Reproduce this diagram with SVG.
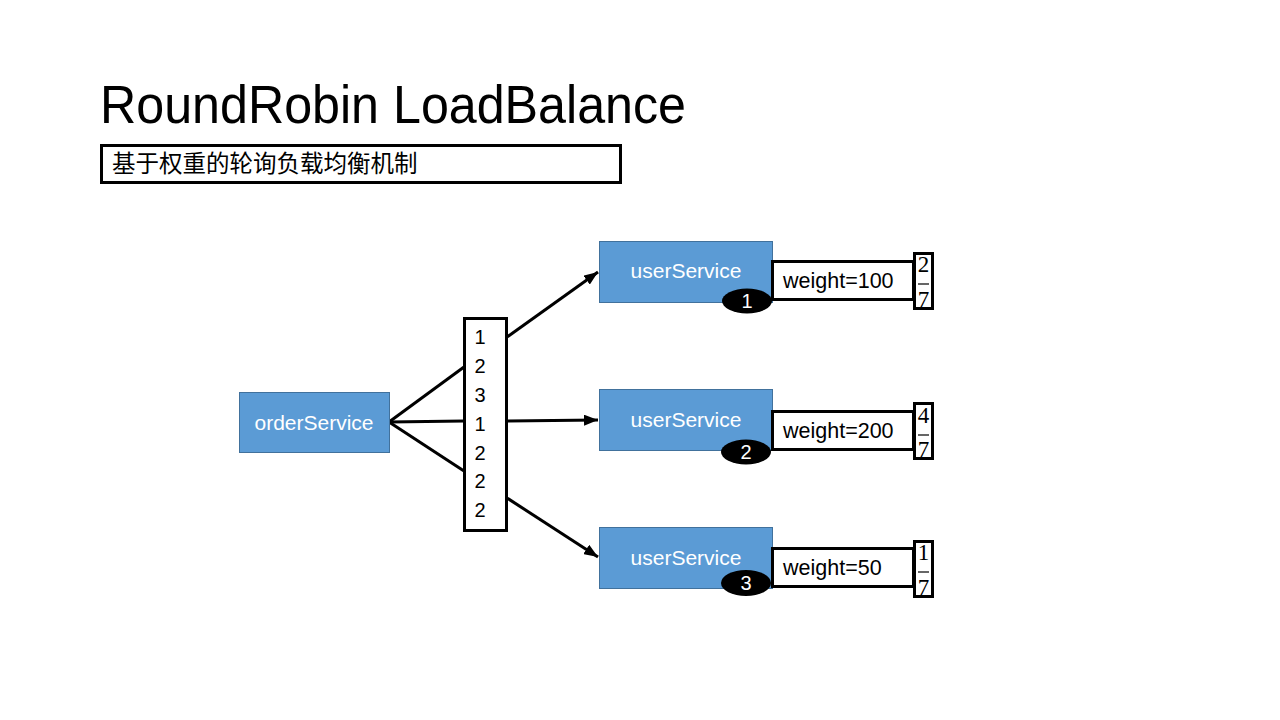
<svg xmlns="http://www.w3.org/2000/svg" width="1280" height="720" viewBox="0 0 1280 720">
  <defs>
    <marker id="arrow" markerWidth="14" markerHeight="11" refX="14" refY="5.5" orient="auto" markerUnits="userSpaceOnUse">
      <path d="M0,0 L14,5.5 L0,11 Z" fill="#000"/>
    </marker>
    <style>
      .svc { fill: #5B9BD5; stroke: #41719C; stroke-width: 1; }
      .svcText { font-family: "Liberation Sans", Arial, sans-serif; font-size: 21px; fill: #FFFFFF; text-anchor: middle; }
      .box { fill: #FFFFFF; stroke: #000000; stroke-width: 3; }
      .txt { font-family: "Liberation Sans", Arial, sans-serif; font-size: 21.5px; fill: #000000; }
      .num { font-family: "Liberation Sans", Arial, sans-serif; font-size: 20px; fill: #000000; text-anchor: middle; }
      .frac { font-family: "Liberation Serif", "Times New Roman", serif; font-size: 23px; fill: #000000; text-anchor: middle; }
      .badge { fill: #000000; }
      .badgeText { font-family: "Liberation Sans", Arial, sans-serif; font-size: 20px; fill: #FFFFFF; text-anchor: middle; }
      .conn { stroke: #000000; stroke-width: 3; fill: none; }
    </style>
  </defs>
  <rect width="1280" height="720" fill="#FFFFFF"/>

  <g id="title">
    <text x="100" y="123" font-family="'Liberation Sans', Arial, sans-serif" font-size="53" fill="#000" textLength="586" lengthAdjust="spacingAndGlyphs">RoundRobin LoadBalance</text>
  </g>
  <g id="subtitle">
    <rect x="101.5" y="145.5" width="519" height="37" class="box"/>
    <text x="112" y="172" font-family="'Noto Sans CJK SC', sans-serif" font-size="23.5" fill="#000">基于权重的轮询负载均衡机制</text>
  </g>

  <g id="connectors">
    <line x1="389" y1="422" x2="464" y2="367" class="conn"/>
    <line x1="389" y1="422" x2="464" y2="421" class="conn"/>
    <line x1="389" y1="422" x2="464" y2="471" class="conn"/>
    <line x1="507" y1="337" x2="598" y2="272" class="conn" marker-end="url(#arrow)"/>
    <line x1="507" y1="421" x2="598" y2="420" class="conn" marker-end="url(#arrow)"/>
    <line x1="507" y1="498" x2="598" y2="557" class="conn" marker-end="url(#arrow)"/>
  </g>

  <g id="orderService">
    <rect x="239.5" y="392.5" width="150" height="60" class="svc"/>
    <text x="314" y="430" class="svcText">orderService</text>
  </g>

  <g id="sequence">
    <rect x="464.5" y="318.5" width="42" height="212" class="box"/>
    <text x="480" y="344" class="num">1</text>
    <text x="480" y="373" class="num">2</text>
    <text x="480" y="402" class="num">3</text>
    <text x="480" y="431" class="num">1</text>
    <text x="480" y="460" class="num">2</text>
    <text x="480" y="488" class="num">2</text>
    <text x="480" y="517" class="num">2</text>
  </g>

  <g id="userService1">
    <rect x="599.5" y="241.5" width="173" height="61" class="svc"/>
    <text x="686" y="278" class="svcText">userService</text>
    <ellipse cx="747" cy="301" rx="25" ry="12.5" class="badge"/>
    <text x="747" y="308" class="badgeText">1</text>
  </g>
  <g id="weight1">
    <rect x="772.5" y="261.5" width="141" height="38" class="box"/>
    <text x="783" y="288" class="txt">weight=100</text>
  </g>
  <g id="fraction1">
    <rect x="914.5" y="253.5" width="18" height="55" class="box"/>
    <text x="923.5" y="272" class="frac">2</text>
    <line x1="918" y1="284" x2="929" y2="284" stroke="#000" stroke-width="1.2"/>
    <text x="923.5" y="306.5" class="frac">7</text>
  </g>

  <g id="userService2">
    <rect x="599.5" y="389.5" width="173" height="61" class="svc"/>
    <text x="686" y="427" class="svcText">userService</text>
    <ellipse cx="746" cy="452" rx="25" ry="12.5" class="badge"/>
    <text x="746" y="459" class="badgeText">2</text>
  </g>
  <g id="weight2">
    <rect x="772.5" y="411.5" width="141" height="38" class="box"/>
    <text x="783" y="438" class="txt">weight=200</text>
  </g>
  <g id="fraction2">
    <rect x="914.5" y="403.5" width="18" height="55" class="box"/>
    <text x="923.5" y="423" class="frac">4</text>
    <line x1="918" y1="435" x2="929" y2="435" stroke="#000" stroke-width="1.2"/>
    <text x="923.5" y="456.5" class="frac">7</text>
  </g>

  <g id="userService3">
    <rect x="599.5" y="527.5" width="173" height="61" class="svc"/>
    <text x="686" y="565" class="svcText">userService</text>
    <ellipse cx="746" cy="583" rx="25" ry="13" class="badge"/>
    <text x="746" y="590" class="badgeText">3</text>
  </g>
  <g id="weight3">
    <rect x="772.5" y="548.5" width="141" height="38" class="box"/>
    <text x="783" y="575" class="txt">weight=50</text>
  </g>
  <g id="fraction3">
    <rect x="914.5" y="541.5" width="18" height="55" class="box"/>
    <text x="923.5" y="560" class="frac">1</text>
    <line x1="918" y1="572" x2="929" y2="572" stroke="#000" stroke-width="1.2"/>
    <text x="923.5" y="594.5" class="frac">7</text>
  </g>
</svg>
